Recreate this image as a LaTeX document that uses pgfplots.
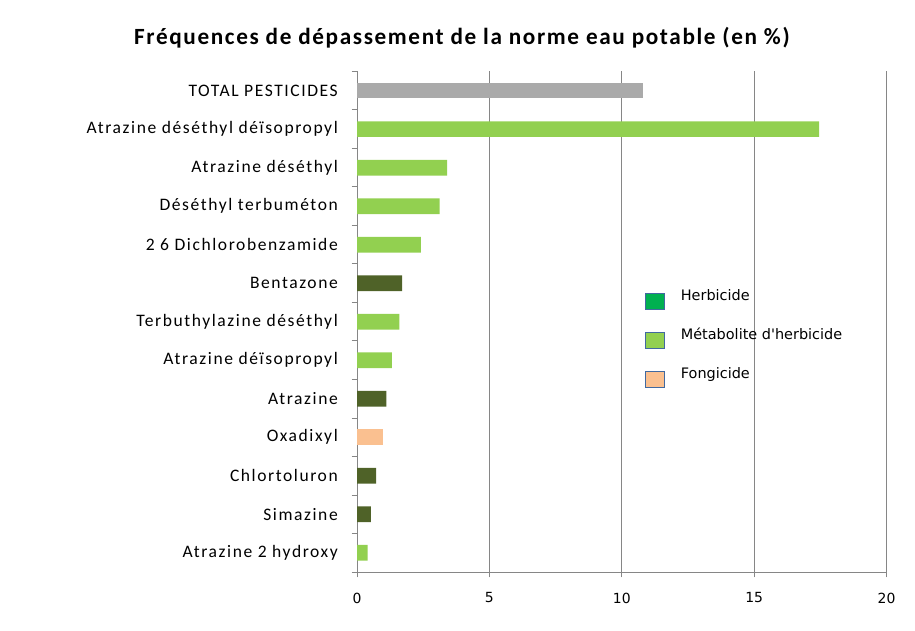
\documentclass[border=0pt]{standalone}
\usepackage{pgfplots}
\pgfplotsset{compat=1.18}
\usepackage{fontspec}
\setmainfont{Carlito}
\newfontfamily\catfont[LetterSpace=9]{Carlito}
\newfontfamily\titlefont[LetterSpace=7]{Carlito}
\newfontfamily\djv{DejaVu Sans}
\definecolor{herb}{RGB}{79,98,40}
\definecolor{metab}{RGB}{146,208,80}
\definecolor{fong}{RGB}{250,192,144}
\definecolor{tot}{RGB}{170,170,170}
\definecolor{gridc}{RGB}{134,134,134}
\definecolor{legherb}{RGB}{0,176,80}
\definecolor{legborder}{RGB}{65,105,160}
\begin{document}
\begin{tikzpicture}[x=1bp,y=1bp]
\useasboundingbox (0,0) rectangle (915,631);
\node[anchor=base west, inner sep=0pt, font={\titlefont\bfseries\fontsize{23.3}{27}\selectfont}] at (134,586) {Fréquences de dépassement de la norme eau potable (en~\%)};
\begin{axis}[
  at={(357bp,59bp)}, anchor=south west, scale only axis,
  width=529.5bp, height=500.6bp,
  xmin=0, xmax=20, ymin=-0.5, ymax=12.5,
  axis lines*=left,
  axis line style={draw=gridc, line width=0.9bp},
  xtick={0,5,10,15,20},
  xmajorgrids, grid style={draw=gridc, line width=0.9bp},
  tick align=outside,
  major tick length=5.5bp,
  tick style={draw=gridc, line width=0.9bp},
  /pgf/number format/assume math mode=true,
  xticklabel style={font={\djv\fontsize{14}{16}\selectfont}, inner sep=0pt, anchor=north, yshift=-15bp},
  ytick={-0.5,0.5,...,12.5}, yticklabels={},
  extra y ticks={0,1,2,3,4,5,6,7,8,9,10,11,12},
  extra y tick labels={Atrazine 2 hydroxy, Simazine, Chlortoluron, Oxadixyl, Atrazine, Atrazine déïsopropyl, Terbuthylazine déséthyl, Bentazone, 2 6 Dichlorobenzamide, Déséthyl terbuméton, Atrazine déséthyl, Atrazine déséthyl déïsopropyl, TOTAL PESTICIDES},
  extra y tick style={major tick length=0pt, yticklabel style={font={\catfont\fontsize{17.6}{20}\selectfont}, inner sep=0pt, xshift=-19bp}},
  legend style={at={(rel axis cs:0.544,0.565)}, anchor=north west, draw=none, fill=none,
    font={\djv\fontsize{14.5}{17}\selectfont}, inner sep=0pt, row sep=18bp,
    nodes={inner sep=0pt, text height=11bp, text depth=4bp}},
  legend cell align=left,
]
\addplot[xbar, bar width=15.7bp, bar shift=0pt, fill=tot, draw=none, forget plot] coordinates {(10.8,12)};
\addplot[xbar, bar width=15.7bp, bar shift=0pt, fill=metab, draw=none, forget plot] coordinates {(17.45,11) (3.4,10) (3.12,9) (2.41,8) (1.6,6) (1.32,5) (0.40,0)};
\addplot[xbar, bar width=15.7bp, bar shift=0pt, fill=herb, draw=none, forget plot] coordinates {(1.7,7) (1.11,4) (0.72,2) (0.52,1)};
\addplot[xbar, bar width=15.7bp, bar shift=0pt, fill=fong, draw=none, forget plot] coordinates {(1.0,3)};
\addlegendimage{legend image code/.code={\draw[fill=legherb, draw=legborder, line width=0.8bp] (0bp,-13bp) rectangle (19bp,3bp); \path (35bp,0bp);}}
\addlegendentry{Herbicide}
\addlegendimage{legend image code/.code={\draw[fill=metab, draw=legborder, line width=0.8bp] (0bp,-13bp) rectangle (19bp,3bp); \path (35bp,0bp);}}
\addlegendentry{Métabolite d'herbicide}
\addlegendimage{legend image code/.code={\draw[fill=fong, draw=legborder, line width=0.8bp] (0bp,-13bp) rectangle (19bp,3bp); \path (35bp,0bp);}}
\addlegendentry{Fongicide}
\end{axis}
\end{tikzpicture}
\end{document}
